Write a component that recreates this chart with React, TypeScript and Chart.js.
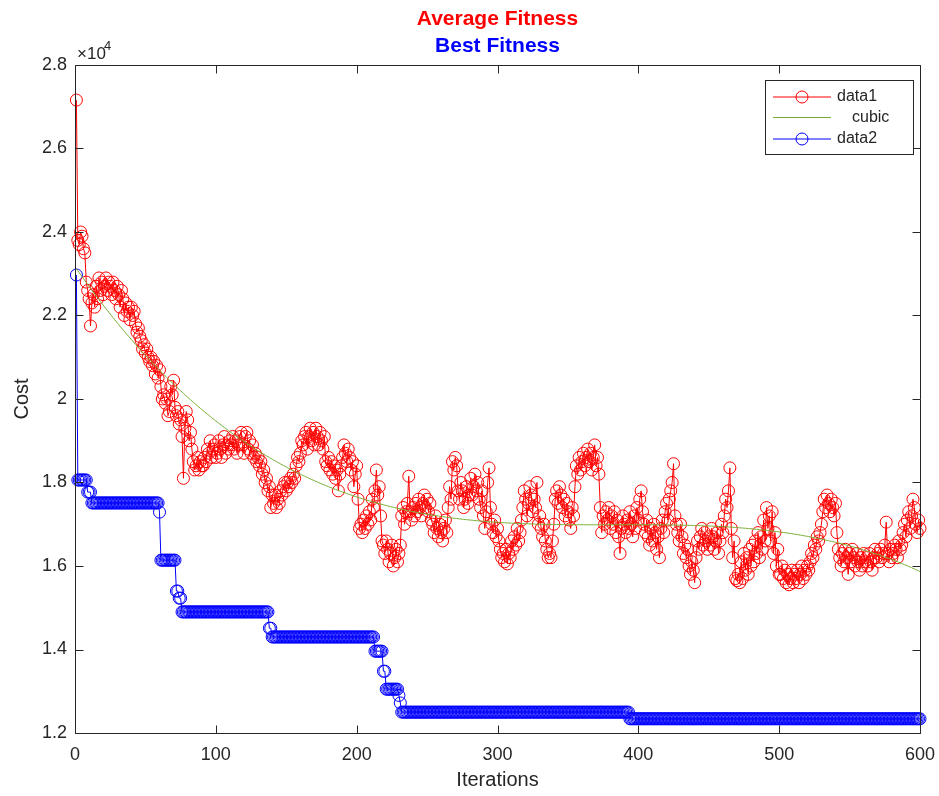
import React, { useEffect, useRef } from "react";
import { Chart, registerables } from "chart.js";

Chart.register(...registerables);

// Average fitness per iteration (values in units of 1e4)
const avgFitness: number[] = [
  2.716, 2.38, 2.37, 2.40, 2.39, 2.36, 2.35, 2.28, 2.26, 2.24,
  2.175, 2.23, 2.25, 2.22, 2.27, 2.24, 2.29, 2.26, 2.28, 2.25,
  2.27, 2.29, 2.26, 2.28, 2.27, 2.25, 2.28, 2.26, 2.24, 2.27,
  2.25, 2.22, 2.26, 2.24, 2.20, 2.23, 2.21, 2.22, 2.19, 2.22,
  2.20, 2.21, 2.18, 2.16, 2.17, 2.15, 2.14, 2.12, 2.13, 2.11,
  2.12, 2.10, 2.09, 2.10, 2.08, 2.09, 2.06, 2.08, 2.05, 2.07,
  2.03, 2.00, 2.01, 1.99, 2.00, 1.96, 1.97, 2.03, 2.01, 2.045,
  1.98, 1.96, 1.97, 1.94, 1.95, 1.91, 1.81, 1.93, 1.97, 1.95,
  1.90, 1.92, 1.88, 1.85, 1.83, 1.84, 1.86, 1.83, 1.85, 1.84,
  1.84, 1.86, 1.85, 1.88, 1.87, 1.90, 1.86, 1.88, 1.89, 1.86,
  1.87, 1.90, 1.88, 1.86, 1.89, 1.91, 1.87, 1.89, 1.88, 1.90,
  1.89, 1.91, 1.88, 1.90, 1.87, 1.89, 1.91, 1.92, 1.89, 1.87,
  1.91, 1.92, 1.88, 1.90, 1.87, 1.89, 1.86, 1.87, 1.85, 1.86,
  1.84, 1.85, 1.82, 1.83, 1.80, 1.81, 1.78, 1.79, 1.74, 1.77,
  1.75, 1.77, 1.74, 1.76, 1.75, 1.78, 1.77, 1.79, 1.80, 1.78,
  1.80, 1.79, 1.81, 1.80, 1.82, 1.81, 1.84, 1.86, 1.85, 1.87,
  1.90, 1.89, 1.91, 1.92, 1.88, 1.91, 1.93, 1.90, 1.92, 1.89,
  1.93, 1.91, 1.89, 1.92, 1.90, 1.88, 1.91, 1.85, 1.84, 1.86,
  1.83, 1.85, 1.82, 1.84, 1.81, 1.83, 1.78, 1.82, 1.84, 1.86,
  1.89, 1.87, 1.85, 1.88, 1.86, 1.83, 1.85, 1.79, 1.82, 1.84,
  1.76, 1.69, 1.70, 1.68, 1.71, 1.69, 1.72, 1.70, 1.73, 1.71,
  1.76, 1.74, 1.78, 1.83, 1.77, 1.79, 1.72, 1.66, 1.65, 1.63,
  1.66, 1.64, 1.61, 1.63, 1.65, 1.60, 1.62, 1.64, 1.61, 1.63,
  1.65, 1.72, 1.74, 1.70, 1.73, 1.75, 1.815, 1.73, 1.71, 1.74,
  1.72, 1.75, 1.73, 1.76, 1.74, 1.72, 1.75, 1.77, 1.74, 1.76,
  1.73, 1.75, 1.71, 1.70, 1.68, 1.72, 1.69, 1.67, 1.70, 1.68,
  1.66, 1.69, 1.71, 1.68, 1.74, 1.79, 1.76, 1.85, 1.83, 1.86,
  1.84, 1.78, 1.76, 1.80, 1.78, 1.74, 1.76, 1.79, 1.75, 1.77,
  1.81, 1.77, 1.79, 1.82, 1.78, 1.80, 1.76, 1.74, 1.78, 1.72,
  1.69, 1.73, 1.80, 1.835, 1.74, 1.70, 1.68, 1.71, 1.67, 1.69,
  1.66, 1.64, 1.62, 1.63, 1.61, 1.64, 1.605, 1.63, 1.62, 1.66,
  1.64, 1.67, 1.65, 1.69, 1.66, 1.68, 1.71, 1.74, 1.78, 1.76,
  1.72, 1.75, 1.79, 1.77, 1.73, 1.76, 1.74, 1.80, 1.70, 1.72,
  1.69, 1.67, 1.70, 1.66, 1.64, 1.62, 1.63, 1.62, 1.66, 1.70,
  1.76, 1.78, 1.75, 1.79, 1.77, 1.74, 1.76, 1.72, 1.75, 1.73,
  1.71, 1.69, 1.74, 1.72, 1.79, 1.84, 1.82, 1.86, 1.83, 1.85,
  1.87, 1.84, 1.86, 1.88, 1.85, 1.87, 1.83, 1.86, 1.89, 1.84,
  1.86, 1.82, 1.74, 1.68, 1.72, 1.70, 1.73, 1.71, 1.74, 1.69,
  1.72, 1.70, 1.73, 1.68, 1.71, 1.67, 1.63, 1.69, 1.72, 1.70,
  1.68, 1.71, 1.69, 1.73, 1.70, 1.67, 1.72, 1.69, 1.74, 1.71,
  1.76, 1.78, 1.73, 1.70, 1.68, 1.71, 1.67, 1.65, 1.69, 1.66,
  1.70, 1.68, 1.64, 1.67, 1.62, 1.69, 1.71, 1.68, 1.73, 1.75,
  1.71, 1.76, 1.78, 1.80, 1.845, 1.72, 1.70, 1.68, 1.66, 1.70,
  1.67, 1.63, 1.65, 1.62, 1.64, 1.60, 1.58, 1.61, 1.59, 1.56,
  1.62, 1.66, 1.64, 1.67, 1.69, 1.65, 1.68, 1.66, 1.64, 1.67,
  1.65, 1.69, 1.67, 1.64, 1.66, 1.68, 1.63, 1.66, 1.70, 1.68,
  1.72, 1.76, 1.74, 1.78, 1.835, 1.69, 1.62, 1.66, 1.57, 1.565,
  1.58, 1.56, 1.61, 1.57, 1.63, 1.59, 1.62, 1.58, 1.64, 1.60,
  1.65, 1.61, 1.66, 1.63, 1.68, 1.62, 1.67, 1.64, 1.71, 1.66,
  1.74, 1.69, 1.72, 1.66, 1.73, 1.63, 1.68, 1.60, 1.64, 1.58,
  1.58, 1.60, 1.57, 1.59, 1.56, 1.58, 1.555, 1.57, 1.59, 1.56,
  1.58, 1.57, 1.59, 1.56, 1.58, 1.60, 1.57, 1.59, 1.58, 1.60,
  1.59, 1.61, 1.63, 1.62, 1.65, 1.64, 1.67, 1.66, 1.68, 1.70,
  1.73, 1.76, 1.74, 1.77, 1.75, 1.73, 1.76, 1.74, 1.72, 1.75,
  1.68, 1.64, 1.62, 1.60, 1.63, 1.61, 1.64, 1.62, 1.58, 1.63,
  1.61, 1.64, 1.62, 1.60, 1.63, 1.61, 1.59, 1.62, 1.60, 1.63,
  1.61, 1.62, 1.60, 1.63, 1.61, 1.59, 1.62, 1.64, 1.62, 1.63,
  1.61, 1.64, 1.62, 1.63, 1.65, 1.705, 1.63, 1.61, 1.64, 1.62,
  1.63, 1.65, 1.64, 1.62, 1.66, 1.64, 1.65, 1.68, 1.70, 1.67,
  1.71, 1.73, 1.69, 1.72, 1.76, 1.74, 1.70, 1.68, 1.71, 1.69,
];

// Best fitness: step levels (units of 1e4) and how many iterations each lasts
const bestLevels: number[] = [
  2.297, 1.806, 1.777, 1.751, 1.729, 1.614, 1.540, 1.523, 1.490,
  1.451, 1.430, 1.396, 1.348, 1.305, 1.290, 1.272, 1.250, 1.234,
];
const bestRuns: number[] = [
  1, 7, 3, 48, 1, 11, 2, 2, 62,
  2, 73, 6, 2, 9, 1, 1, 162, 207,
];

const xTicks: number[] = [0, 100, 200, 300, 400, 500, 600];
const yTicks: number[] = [1.2, 1.4, 1.6, 1.8, 2.0, 2.2, 2.4, 2.6, 2.8];

const FONT = "'Liberation Sans', Arial, Helvetica, sans-serif";
const AXIS_COLOR = "#262626";
const RED = "#ff0000";
const BLUE = "#0000ff";
const GREEN = "#77ac30";

function expandRuns(levels: number[], runs: number[]): number[] {
  const out: number[] = [];
  levels.forEach((v, k) => {
    for (let j = 0; j < runs[k]; j++) out.push(v);
  });
  return out;
}

// least-squares cubic fit of the average fitness (MATLAB "basic fitting: cubic")
function cubicFit(xs: number[], ys: number[]): number[] {
  const n = xs.length;
  const mid = (xs[0] + xs[n - 1]) / 2;
  const half = (xs[n - 1] - xs[0]) / 2;
  const A = [0, 1, 2, 3].map(() => [0, 0, 0, 0]);
  const b = [0, 0, 0, 0];
  for (let k = 0; k < n; k++) {
    const t = (xs[k] - mid) / half;
    const p = [1, t, t * t, t * t * t];
    for (let r = 0; r < 4; r++) {
      b[r] += p[r] * ys[k];
      for (let c = 0; c < 4; c++) A[r][c] += p[r] * p[c];
    }
  }
  for (let i = 0; i < 4; i++) {
    let piv = i;
    for (let r = i + 1; r < 4; r++) if (Math.abs(A[r][i]) > Math.abs(A[piv][i])) piv = r;
    [A[i], A[piv]] = [A[piv], A[i]];
    [b[i], b[piv]] = [b[piv], b[i]];
    for (let r = i + 1; r < 4; r++) {
      const f = A[r][i] / A[i][i];
      for (let c = i; c < 4; c++) A[r][c] -= f * A[i][c];
      b[r] -= f * b[i];
    }
  }
  const coef = [0, 0, 0, 0];
  for (let i = 3; i >= 0; i--) {
    let s = b[i];
    for (let c = i + 1; c < 4; c++) s -= A[i][c] * coef[c];
    coef[i] = s / A[i][i];
  }
  return xs.map((x) => {
    const t = (x - mid) / half;
    return coef[0] + coef[1] * t + coef[2] * t * t + coef[3] * t * t * t;
  });
}

const decorPlugin = {
  id: "matlabDecor",
  afterDatasetsDraw(chart: any) {
    const { ctx, chartArea: a, scales } = chart;
    ctx.save();
    const L = Math.round(a.left) + 0.5;
    const R = Math.round(a.right) + 0.5;
    const T = Math.round(a.top) + 0.5;
    const B = Math.round(a.bottom) + 0.5;
    ctx.strokeStyle = AXIS_COLOR;
    ctx.lineWidth = 1;
    ctx.beginPath();
    ctx.rect(L, T, R - L, B - T);
    const TL = 8;
    xTicks.forEach((v) => {
      const px = Math.round(scales.x.getPixelForValue(v)) + 0.5;
      ctx.moveTo(px, B);
      ctx.lineTo(px, B - TL);
      ctx.moveTo(px, T);
      ctx.lineTo(px, T + TL);
    });
    yTicks.forEach((v) => {
      const py = Math.round(scales.y.getPixelForValue(v)) + 0.5;
      ctx.moveTo(L, py);
      ctx.lineTo(L + TL, py);
      ctx.moveTo(R, py);
      ctx.lineTo(R - TL, py);
    });
    ctx.stroke();

    // titles
    const cx = (a.left + a.right) / 2;
    ctx.textAlign = "center";
    ctx.textBaseline = "middle";
    ctx.font = `bold 21px ${FONT}`;
    ctx.fillStyle = RED;
    ctx.fillText("Average Fitness", cx, 19);
    ctx.fillStyle = BLUE;
    ctx.fillText("Best Fitness", cx, 46);

    // exponent label
    ctx.fillStyle = AXIS_COLOR;
    ctx.textAlign = "left";
    ctx.textBaseline = "alphabetic";
    ctx.font = `17px ${FONT}`;
    ctx.fillText("\u00d710", a.left + 2, 59);
    ctx.font = `13px ${FONT}`;
    ctx.fillText("4", a.left + 29, 50);

    // axis labels
    ctx.font = `20px ${FONT}`;
    ctx.textAlign = "center";
    ctx.textBaseline = "middle";
    ctx.fillText("Iterations", cx, 780);
    ctx.save();
    ctx.translate(22, (a.top + a.bottom) / 2);
    ctx.rotate(-Math.PI / 2);
    ctx.fillText("Cost", 0, 0);
    ctx.restore();

    // legend
    const lx = 765.5, ly = 80.5, lw = 148, lh = 74;
    ctx.fillStyle = "#ffffff";
    ctx.fillRect(lx, ly, lw, lh);
    ctx.strokeStyle = AXIS_COLOR;
    ctx.strokeRect(lx, ly, lw, lh);
    const entries = [
      { label: "data1", color: RED, marker: true, y: 97, tx: 837 },
      { label: "cubic", color: GREEN, marker: false, y: 117.5, tx: 852 },
      { label: "data2", color: BLUE, marker: true, y: 139, tx: 837 },
    ];
    entries.forEach((e) => {
      ctx.strokeStyle = e.color;
      ctx.lineWidth = 1;
      ctx.beginPath();
      ctx.moveTo(773, e.y);
      ctx.lineTo(831, e.y);
      ctx.stroke();
      if (e.marker) {
        ctx.beginPath();
        ctx.arc(802, e.y, 6, 0, Math.PI * 2);
        ctx.stroke();
      }
      ctx.fillStyle = AXIS_COLOR;
      ctx.font = `16px ${FONT}`;
      ctx.textAlign = "left";
      ctx.textBaseline = "middle";
      ctx.fillText(e.label, e.tx, e.y);
    });
    ctx.restore();
  },
};

export default function App() {
  const canvasRef = useRef<HTMLCanvasElement | null>(null);

  useEffect(() => {
    const canvas = canvasRef.current;
    if (!canvas) return;
    const iters = avgFitness.map((_, i) => i + 1);
    const best = expandRuns(bestLevels, bestRuns);
    const cubic = cubicFit(iters, avgFitness);

    const chart = new Chart(canvas, {
      type: "scatter",
      data: {
        datasets: [
          {
            label: "cubic",
            data: iters.map((x, i) => ({ x, y: cubic[i] })),
            showLine: true,
            borderColor: GREEN,
            borderWidth: 1,
            pointRadius: 0,
            order: 0,
            clip: false as any,
          },
          {
            label: "data1",
            data: iters.map((x, i) => ({ x, y: avgFitness[i] })),
            showLine: true,
            borderColor: RED,
            backgroundColor: "rgba(0,0,0,0)",
            borderWidth: 1,
            pointRadius: 6,
            pointBorderWidth: 1,
            pointBorderColor: RED,
            pointBackgroundColor: "rgba(0,0,0,0)",
            order: 1,
            clip: false as any,
          },
          {
            label: "data2",
            data: iters.map((x, i) => ({ x, y: best[i] })),
            showLine: true,
            borderColor: BLUE,
            backgroundColor: "rgba(0,0,0,0)",
            borderWidth: 1,
            pointRadius: 6,
            pointBorderWidth: 1,
            pointBorderColor: BLUE,
            pointBackgroundColor: "rgba(0,0,0,0)",
            order: 2,
            clip: false as any,
          },
        ],
      },
      options: {
        responsive: false,
        animation: false,
        devicePixelRatio: 1,
        layout: { padding: { left: 0, right: 19, top: 65, bottom: 0 } },
        plugins: {
          legend: { display: false },
          tooltip: { enabled: false },
          title: { display: false },
        },
        scales: {
          x: {
            type: "linear",
            min: 0,
            max: 600,
            afterFit: (s: any) => {
              s.height = 63;
              s.paddingLeft = 0;
              s.paddingRight = 0;
            },
            afterBuildTicks: (s: any) => {
              s.ticks = xTicks.map((v) => ({ value: v }));
            },
            ticks: {
              color: AXIS_COLOR,
              font: { family: FONT, size: 18 },
              padding: 11,
              maxRotation: 0,
              callback: (v: any) => String(v),
            },
            grid: { display: false, drawTicks: false },
            border: { display: false },
          },
          y: {
            type: "linear",
            min: 1.2,
            max: 2.8,
            afterFit: (s: any) => {
              s.width = 75;
              s.paddingTop = 0;
              s.paddingBottom = 0;
            },
            afterBuildTicks: (s: any) => {
              s.ticks = yTicks.map((v) => ({ value: v }));
            },
            ticks: {
              color: AXIS_COLOR,
              font: { family: FONT, size: 18 },
              padding: 8,
              callback: (v: any) => String(Number(Number(v).toFixed(1))),
            },
            grid: { display: false, drawTicks: false },
            border: { display: false },
          },
        },
      },
      plugins: [decorPlugin],
    });
    return () => chart.destroy();
  }, []);

  return (
    <div style={{ position: "fixed", left: 0, top: 0, width: 939, height: 796, background: "#ffffff" }}>
      <canvas ref={canvasRef} width={939} height={796} style={{ display: "block" }} />
    </div>
  );
}
